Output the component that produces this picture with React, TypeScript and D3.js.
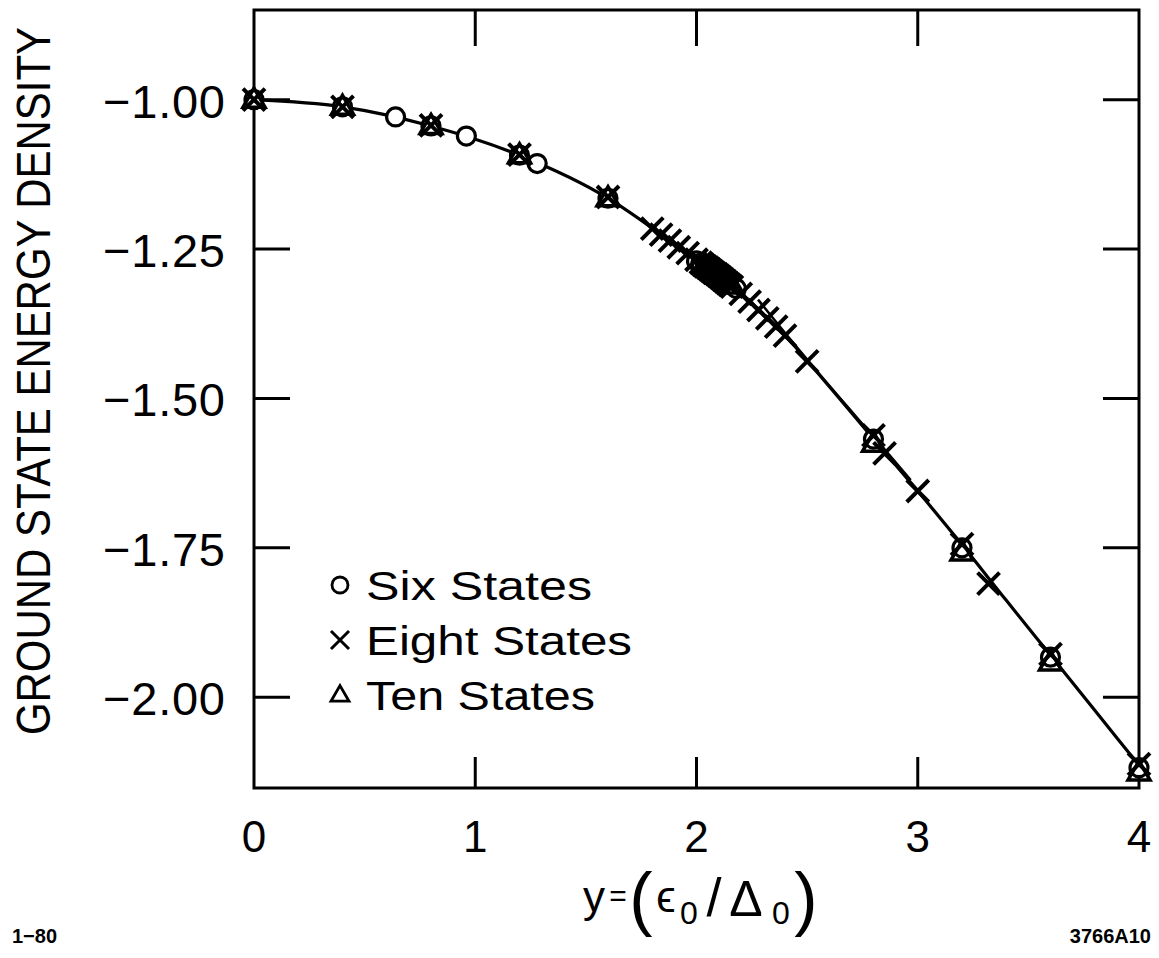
import React from "react";
import * as d3 from "d3";

const W = 1159;
const H = 958;

// ---- axis ticks ----
const xTickValues = [0, 1, 2, 3, 4];
const xTickLabels = ["0", "1", "2", "3", "4"];
const yTickValues = [-1.0, -1.25, -1.5, -1.75, -2.0];
const yTickLabels = ["−1.00", "−1.25", "−1.50", "−1.75", "−2.00"];

// ---- fitted curve ----
const curveX = [0, 0.4, 0.8, 1.2, 1.6, 1.8, 2.0, 2.2, 2.4, 2.6, 2.8, 3.0, 3.2, 3.4, 3.6, 3.8, 4.0];
const curveY = [-1.0, -1.012, -1.044, -1.093, -1.165, -1.215, -1.268, -1.325, -1.395, -1.48, -1.568, -1.655, -1.745, -1.838, -1.93, -2.022, -2.114];

// second, nearly coincident branch of the curve
const curve2X = [2.26, 2.4, 2.6, 2.8, 2.95];
const curve2Y = [-1.338, -1.402, -1.49, -1.575, -1.64];

// ---- Six States (circles) ----
const sixX = [0, 0.4, 0.64, 0.8, 0.96, 1.2, 1.28, 1.6, 2.0, 2.02, 2.04, 2.05, 2.06, 2.07, 2.08, 2.09, 2.1, 2.11, 2.12, 2.13, 2.14, 2.15, 2.16, 2.18, 2.8, 3.2, 3.6, 4.0];
const sixY = [-1.0, -1.012, -1.029, -1.044, -1.061, -1.093, -1.107, -1.165, -1.27, -1.274, -1.278, -1.281, -1.283, -1.286, -1.288, -1.291, -1.293, -1.296, -1.298, -1.301, -1.304, -1.307, -1.31, -1.316, -1.568, -1.75, -1.933, -2.118];

// ---- Eight States (crosses) ----
const eightX = [0, 0.4, 0.8, 1.2, 1.6, 1.8, 1.84, 1.88, 1.92, 1.96, 2.0, 2.02, 2.03, 2.04, 2.05, 2.06, 2.07, 2.08, 2.09, 2.1, 2.11, 2.12, 2.13, 2.14, 2.15, 2.16, 2.2, 2.24, 2.28, 2.32, 2.36, 2.4, 2.5, 2.8, 2.85, 3.0, 3.2, 3.32, 3.6, 4.0];
const eightY = [-1.0, -1.012, -1.043, -1.092, -1.163, -1.216, -1.226, -1.236, -1.247, -1.257, -1.268, -1.273, -1.276, -1.279, -1.281, -1.284, -1.287, -1.29, -1.292, -1.295, -1.298, -1.301, -1.304, -1.307, -1.31, -1.313, -1.325, -1.338, -1.352, -1.366, -1.38, -1.395, -1.438, -1.562, -1.592, -1.655, -1.744, -1.81, -1.928, -2.112];

// ---- Ten States (triangles) ----
const tenX = [0, 0.4, 0.8, 1.2, 1.6, 2.04, 2.07, 2.1, 2.13, 2.16, 2.8, 3.2, 3.6, 4.0];
const tenY = [-1.002, -1.014, -1.046, -1.095, -1.167, -1.28, -1.288, -1.296, -1.304, -1.313, -1.578, -1.76, -1.944, -2.128];

const legendLabels = ["Six States", "Eight States", "Ten States"];

const FONT = "'Liberation Sans', Arial, sans-serif";

export default function App() {
  const x = d3.scaleLinear().domain([0, 4]).range([254, 1139]);
  const y = d3.scaleLinear().domain([-0.85, -2.152]).range([10, 788]);

  const line = d3
    .line<[number, number]>()
    .x((d) => x(d[0]))
    .y((d) => y(d[1]))
    .curve(d3.curveMonotoneX);

  const mainPts: [number, number][] = curveX.map((v, i) => [v, curveY[i]]);
  const branchPts: [number, number][] = curve2X.map((v, i) => [v, curve2Y[i]]);

  const crossPath = (s: number) => `M${-s},${-s}L${s},${s}M${-s},${s}L${s},${-s}`;
  const triPath = (s: number) => {
    const h = (s * Math.sqrt(3)) / 2;
    return `M0,${(-2 * h) / 3}L${s / 2},${h / 3}L${-s / 2},${h / 3}Z`;
  };

  const [x0, x1] = x.range();
  const [y0, y1] = y.range();
  const tickLen = 36;

  return (
    <svg
      width={W}
      height={H}
      style={{ display: "block", background: "#fff", position: "absolute", left: 0, top: 0 }}
    >
      <rect x={0} y={0} width={W} height={H} fill="#fff" />

      {/* frame */}
      <rect x={x0} y={y0} width={x1 - x0} height={y1 - y0} fill="none" stroke="#000" strokeWidth={3} />

      {/* y ticks both sides */}
      {yTickValues.map((v) => (
        <g key={"yt" + v}>
          <line x1={x0} x2={x0 + tickLen} y1={y(v)} y2={y(v)} stroke="#000" strokeWidth={3} />
          <line x1={x1 - tickLen} x2={x1} y1={y(v)} y2={y(v)} stroke="#000" strokeWidth={3} />
        </g>
      ))}
      {/* x ticks top and bottom */}
      {xTickValues.slice(1, -1).map((v) => (
        <g key={"xt" + v}>
          <line x1={x(v)} x2={x(v)} y1={y0} y2={y0 + tickLen} stroke="#000" strokeWidth={3} />
          <line x1={x(v)} x2={x(v)} y1={y1} y2={y1 - 31} stroke="#000" strokeWidth={3} />
        </g>
      ))}

      {/* y tick labels */}
      {yTickValues.map((v, i) => (
        <text
          key={"yl" + v}
          x={225}
          y={y(v) + 18}
          textAnchor="end"
          fontFamily={FONT}
          fontSize={47}
          textLength={122}
          lengthAdjust="spacing"
          fill="#000"
        >
          {yTickLabels[i]}
        </text>
      ))}

      {/* x tick labels */}
      {xTickValues.map((v, i) => (
        <text
          key={"xl" + v}
          x={x(v)}
          y={852}
          textAnchor="middle"
          fontFamily={FONT}
          fontSize={44}
          fill="#000"
        >
          {xTickLabels[i]}
        </text>
      ))}

      {/* y axis title */}
      <text
        transform={`translate(50,381) rotate(-90)`}
        textAnchor="middle"
        fontFamily={FONT}
        fontSize={49}
        textLength={708}
        lengthAdjust="spacingAndGlyphs"
        fill="#000"
      >
        GROUND STATE ENERGY DENSITY
      </text>

      {/* x axis title: y = (ϵ0/Δ0) */}
      <g fontFamily={FONT} fill="#000">
        <text x={594} y={912} textAnchor="middle" fontSize={44}>y</text>
        <text x={618} y={906} textAnchor="middle" fontSize={30}>=</text>
        <text x={641} y={922} textAnchor="middle" fontSize={70}>(</text>
        <text x={666} y={912} textAnchor="middle" fontSize={44}>ϵ</text>
        <text x={689} y={924} textAnchor="middle" fontSize={32}>0</text>
        <text x={714} y={916} textAnchor="middle" fontSize={54}>/</text>
        <text x={746} y={916} textAnchor="middle" fontSize={50}>Δ</text>
        <text x={781} y={924} textAnchor="middle" fontSize={32}>0</text>
        <text x={806} y={922} textAnchor="middle" fontSize={70}>)</text>
      </g>

      {/* corner annotations */}
      <text x={12} y={943} fontFamily={FONT} fontSize={20} fontWeight="bold" fill="#000">1−80</text>
      <text x={1151} y={943} textAnchor="end" fontFamily={FONT} fontSize={20} fontWeight="bold" fill="#000">3766A10</text>

      {/* curves */}
      <path d={line(mainPts) || ""} fill="none" stroke="#000" strokeWidth={3.2} />
      <path d={line(branchPts) || ""} fill="none" stroke="#000" strokeWidth={2.6} transform="translate(4,-2)" />

      {/* six states */}
      {sixX.map((v, i) => (
        <circle key={"c" + i} cx={x(v)} cy={y(sixY[i])} r={9} fill="#fff" stroke="#000" strokeWidth={3.2} />
      ))}
      {/* ten states */}
      {tenX.map((v, i) => (
        <path
          key={"t" + i}
          d={triPath(22)}
          transform={`translate(${x(v)},${y(tenY[i])})`}
          fill="none"
          stroke="#000"
          strokeWidth={3.5}
        />
      ))}
      {/* eight states */}
      {eightX.map((v, i) => (
        <path
          key={"e" + i}
          d={crossPath(11)}
          transform={`translate(${x(v)},${y(eightY[i])})`}
          fill="none"
          stroke="#000"
          strokeWidth={4}
        />
      ))}

      {/* legend */}
      <g>
        <circle cx={340} cy={585} r={8} fill="#fff" stroke="#000" strokeWidth={2.8} />
        <path d={crossPath(9)} transform="translate(340,640)" stroke="#000" strokeWidth={3} fill="none" />
        <path d={triPath(18)} transform="translate(340,696)" stroke="#000" strokeWidth={2.8} fill="none" />
        {legendLabels.map((t, i) => (
          <text
            key={t}
            x={366}
            y={600 + i * 55}
            fontFamily={FONT}
            fontSize={40}
            textLength={[226, 266, 229][i]}
            lengthAdjust="spacingAndGlyphs"
            fill="#000"
          >
            {t}
          </text>
        ))}
      </g>
    </svg>
  );
}
